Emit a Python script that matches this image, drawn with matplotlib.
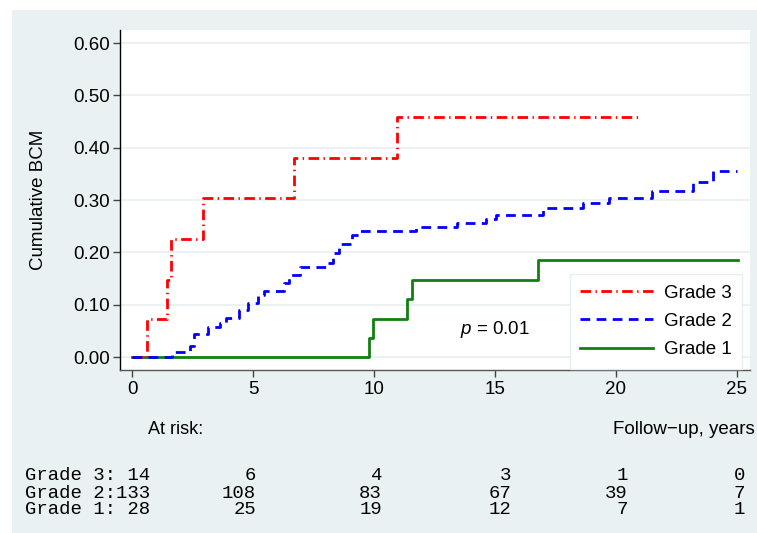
import matplotlib
matplotlib.use("Agg")
import matplotlib.pyplot as plt
from matplotlib.patches import Rectangle

plt.rcParams["font.family"] = ["Liberation Sans", "DejaVu Sans"]
plt.rcParams["mathtext.fontset"] = "custom"
plt.rcParams["mathtext.it"] = "Liberation Sans:italic"
plt.rcParams["mathtext.rm"] = "Liberation Sans"

# ---- data (step functions, value after each time) ----
g3_t = [0.0, 0.6, 1.45, 1.6, 2.95, 6.7, 10.95, 21.0]
g3_y = [0.0, 0.072, 0.148, 0.226, 0.304, 0.381, 0.459, 0.459]

g2_t = [0.0, 1.65, 2.4, 2.55, 3.15, 3.65, 3.9, 4.4, 4.8, 5.2, 5.45, 6.3, 6.5,
        6.95, 8.1, 8.3, 8.55, 9.1, 9.4, 11.75, 13.45, 14.65, 15.05, 17.0,
        18.65, 19.7, 21.5, 23.2, 24.0, 25.0]
g2_y = [0.0, 0.010, 0.022, 0.044, 0.057, 0.065, 0.074, 0.090, 0.103, 0.118,
        0.127, 0.141, 0.157, 0.172, 0.180, 0.198, 0.216, 0.233, 0.240, 0.248,
        0.256, 0.264, 0.271, 0.285, 0.294, 0.303, 0.317, 0.335, 0.355, 0.355]

g1_t = [0.0, 9.78, 9.98, 11.35, 11.57, 16.77, 25.05]
g1_y = [0.0, 0.036, 0.073, 0.110, 0.148, 0.185, 0.185]

yticks = [0.0, 0.1, 0.2, 0.3, 0.4, 0.5, 0.6]
xticks = [0, 5, 10, 15, 20, 25]

risk_names = ["Grade 3", "Grade 2", "Grade 1"]
risk_g3 = [14, 6, 4, 3, 1, 0]
risk_g2 = [133, 108, 83, 67, 39, 7]
risk_g1 = [28, 25, 19, 12, 7, 1]

W, H = 757, 533
BG = "#eaf1f3"

fig = plt.figure(figsize=(W / 100, H / 100), dpi=100)
fig.patch.set_facecolor("white")
fig.patches.append(Rectangle((12 / W, 0), 1 - 12 / W, 1 - 10 / H,
                             transform=fig.transFigure, facecolor=BG,
                             edgecolor="none", zorder=-10))

def px(x, y):
    return x / W, 1 - y / H

ax = fig.add_axes([120 / W, 1 - 370 / H, (750 - 120) / W, (370 - 30) / H])
ax.set_facecolor("white")

ax.step(g3_t, g3_y, where="post", color="#ff0000", lw=2,
        linestyle=(0, (3.8, 1.6, 0.5, 1.6)), label="Grade 3", zorder=3)
ax.step(g2_t, g2_y, where="post", color="#0000ff", lw=2,
        linestyle=(0, (3.5, 2.3)), label="Grade 2", zorder=3)
ax.step(g1_t, g1_y, where="post", color="#118011", lw=2,
        linestyle="-", label="Grade 1", zorder=2)

ax.set_xlim(-0.5, 25.55)
ax.set_ylim(-0.0248, 0.625)
ax.set_xticks(xticks)
ax.set_yticks(yticks)
ax.set_yticklabels([f"{v:.2f}" for v in yticks])
ax.yaxis.grid(True, color=BG, lw=1.3)
ax.set_axisbelow(True)
ax.tick_params(axis="both", labelsize=13.5, length=5, width=1, color="#444444",
               direction="out", pad=3)
ax.tick_params(axis="y", pad=2)

for s in ["top", "right"]:
    ax.spines[s].set_visible(False)
ax.spines["left"].set_color("black")
ax.spines["bottom"].set_color("#555555")
ax.spines["left"].set_linewidth(1)
ax.spines["bottom"].set_linewidth(1)

ax.set_ylabel("Cumulative BCM", fontsize=13.5)
ax.yaxis.set_label_coords(-(120 - 47) / 630, 0.5)

leg = ax.legend(loc="lower right", bbox_to_anchor=(0.987, 0.004),
                borderaxespad=0, fontsize=13.5, handlelength=3.9,
                handletextpad=0.55, labelspacing=0.6, borderpad=0.55,
                fancybox=False, framealpha=1, edgecolor="#e6eef0")
leg.get_frame().set_linewidth(1)

ax.text(13.55, 0.052, "$p$ = 0.01", fontsize=13.5, va="center", ha="left")

# ---- number at risk table below the plot ----
fig.text(*px(148, 430), "At risk:", fontsize=13, va="center", ha="left")
fig.text(*px(755, 430), "Follow\u2212up, years", fontsize=13.5, va="center",
         ha="right")

col_right = [150, 256, 382, 511, 628, 745]
row_y = [476, 493, 510]
for name, row, y in zip(risk_names, [risk_g3, risk_g2, risk_g1], row_y):
    fig.text(*px(col_right[0], y), f"{name}:{row[0]:>3}", fontsize=13.7,
             family="Liberation Mono", va="center", ha="right")
    for c, n in zip(col_right[1:], row[1:]):
        fig.text(*px(c, y), str(n), fontsize=13.7, family="Liberation Mono",
                 va="center", ha="right")

fig.savefig("out.png", dpi=100, facecolor=fig.get_facecolor())
